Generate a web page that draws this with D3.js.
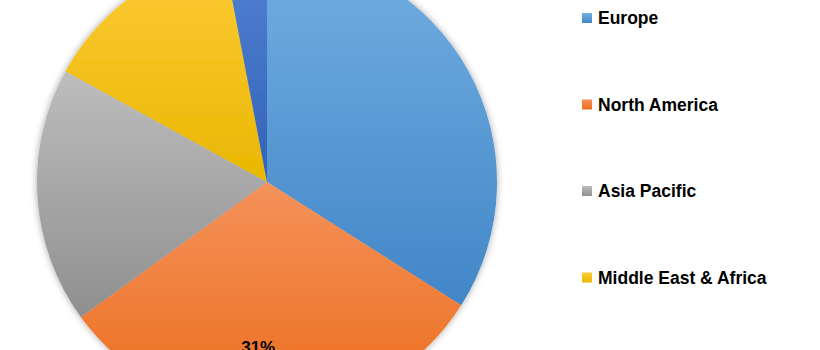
<!DOCTYPE html>
<html>
<head>
<meta charset="utf-8">
<script src="https://cdn.jsdelivr.net/npm/d3@7"></script>
<style>
  html, body { margin: 0; padding: 0; background: #ffffff; }
  svg { display: block; }
</style>
</head>
<body>
<svg id="chart" width="820" height="350"></svg>
<script>
const categories = ["Europe", "North America", "Asia Pacific", "Middle East & Africa", "Latin America"];
const shares = [34, 31, 18, 14, 3];
const legendShown = ["Europe", "North America", "Asia Pacific", "Middle East & Africa"];
const lightColors = ["#72aee0", "#f4925a", "#bdbdbd", "#ffcb3a", "#5282d2"];
const darkColors  = ["#4286c8", "#ec6c1c", "#8f8f8f", "#e8b700", "#3262b8"];
const labelled = ["North America"];

const cx = 267, cy = 182, R = 230;
const svg = d3.select("#chart");
const defs = svg.append("defs");

const shadow = defs.append("filter").attr("id", "shadow")
  .attr("x", "-10%").attr("y", "-10%").attr("width", "120%").attr("height", "120%");
shadow.append("feDropShadow").attr("dx", 0).attr("dy", 0)
  .attr("stdDeviation", 3.5).attr("flood-color", "#000").attr("flood-opacity", 0.35);

categories.forEach((c, i) => {
  const g = defs.append("linearGradient").attr("id", "grad" + i)
    .attr("x1", 0).attr("y1", 0).attr("x2", 0).attr("y2", 1);
  g.append("stop").attr("offset", "0%").attr("stop-color", lightColors[i]);
  g.append("stop").attr("offset", "100%").attr("stop-color", darkColors[i]);
});

const data = categories.map((c, i) => ({ name: c, value: shares[i], i }));
const pie = d3.pie().value(d => d.value).sort(null);
const arcs = pie(data);
const arc = d3.arc().innerRadius(0).outerRadius(R);
const labelArc = d3.arc().innerRadius(R * 0.72).outerRadius(R * 0.72);

const g = svg.append("g").attr("transform", `translate(${cx},${cy})`);
g.append("g").attr("filter", "url(#shadow)")
  .selectAll("path").data(arcs).join("path")
  .attr("d", arc)
  .attr("fill", d => `url(#grad${d.data.i})`)
  .attr("stroke", "none");

g.selectAll("text.lbl").data(arcs.filter(d => labelled.includes(d.data.name))).join("text")
  .attr("class", "lbl")
  .attr("transform", d => `translate(${labelArc.centroid(d)})`)
  .attr("text-anchor", "middle")
  .attr("dx", -14)
  .attr("dy", "0.35em")
  .attr("font-family", "Liberation Sans, Arial, sans-serif")
  .attr("font-weight", "bold")
  .attr("font-size", 17)
  .attr("fill", "#000")
  .text(d => d.data.value + "%");

const legendY = d3.scalePoint().domain(legendShown).range([18, 18 + 86.5 * 3]);
const legData = data.filter(d => legendShown.includes(d.name));
const leg = svg.append("g").selectAll("g").data(legData).join("g")
  .attr("transform", d => `translate(582,${legendY(d.name)})`);
leg.append("rect").attr("x", 0).attr("y", -5).attr("width", 10).attr("height", 10)
  .attr("fill", d => `url(#grad${d.i})`);
leg.append("text").attr("x", 16).attr("dy", "0.35em")
  .attr("font-family", "Liberation Sans, Arial, sans-serif")
  .attr("font-weight", "bold")
  .attr("font-size", 17.5)
  .attr("fill", "#000")
  .text(d => d.name);
</script>
</body>
</html>
